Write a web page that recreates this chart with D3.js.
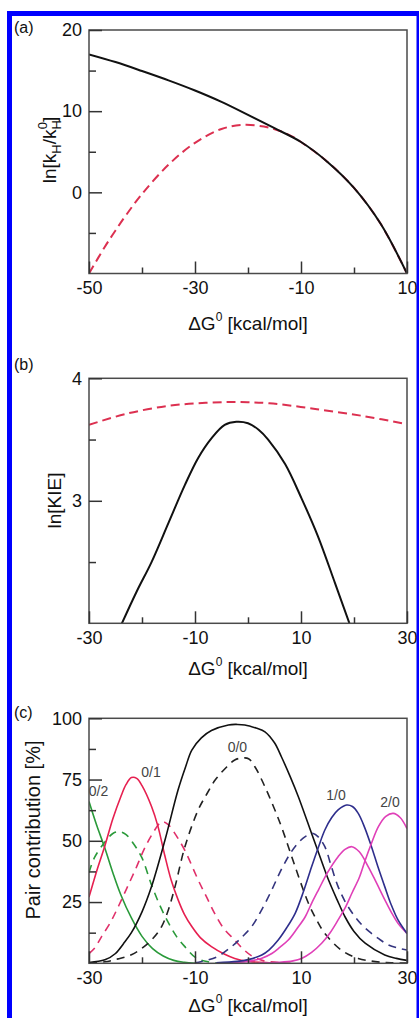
<!DOCTYPE html>
<html><head><meta charset="utf-8">
<script src="https://cdn.jsdelivr.net/npm/d3@7/dist/d3.min.js"></script>
<style>body{margin:0;background:#fff}svg{display:block}text{font-family:"Liberation Sans",Arial,Helvetica,sans-serif}</style>
</head><body><svg id="chart" width="419" height="1018"></svg>
<script>
// ---------- Panel (a) ----------
const aXTicks = [-50, -30, -10, 10];
const aXMinor = [-40, -20, 0];
const aYTicks = [0, 10, 20];
const aYMinor = [-5, 5, 15];
const aBlack = [[-50,17.0],[-45,16.05],[-40,14.95],[-35,13.8],[-30,12.55],[-25,11.15],[-20,9.55],[-15,7.9],[-10,6.2],[-5,3.75],[0,0.55],[5,-3.85],[10,-10]];
const aRed = [[-50,-10],[-47,-6.7],[-45,-4.7],[-43,-2.8],[-40,-0.2],[-35,3.4],[-30,6.1],[-25,7.8],[-21,8.3],[-17,8.1],[-14,7.55],[-12,7.0],[-10,6.2],[-5,3.75],[0,0.55],[5,-3.85],[10,-10]];

// ---------- Panel (b) ----------
const bXTicks = [-30, -10, 10, 30];
const bXMinor = [-20, 0, 20];
const bYTicks = [3, 4];
const bYMinor = [2.5, 3.5];
const bBlack = [[-24,1.98],[-21,2.26],[-18.2,2.5],[-15,2.82],[-11.9,3.13],[-9.4,3.35],[-6.9,3.51],[-4.4,3.62],[-2.2,3.645],[0,3.633],[2,3.58],[3.8,3.5],[7,3.3],[10.1,3.02],[13.2,2.71],[16.4,2.33],[19.3,1.98]];
const bRed = [[-30,3.62],[-23,3.71],[-15,3.775],[-8,3.8],[-2,3.806],[4,3.796],[13,3.748],[22,3.69],[30,3.625]];

// ---------- Panel (c) ----------
const cXTicks = [-30, -10, 10, 30];
const cXMinor = [-20, 0, 20];
const cYTicks = [25, 50, 75, 100];
const cYMinor = [12.5, 37.5, 62.5, 87.5];
const cGreenSolid = [[-30,66],[-28.5,56],[-27,47],[-25.5,37],[-24,28],[-22,18.5],[-20,11],[-18,6],[-16,3],[-14,1.2],[-12,0.4],[-10,0]];
const cGreenDash = [[-30,37],[-29,43],[-27,49.5],[-25.5,53],[-24.3,53.7],[-23,52.5],[-21.5,48.5],[-20,43],[-18.2,32],[-16.5,23],[-15,16.5],[-13.5,11],[-12,7],[-10,2.5],[-8,0.8],[-6,0.2]];
const cRedSolid = [[-30,27],[-28.5,38],[-27,48],[-25.5,59],[-24,68],[-23,73],[-22,75.8],[-21,75.5],[-20,72.5],[-18.2,64],[-17,56],[-15.7,44],[-14.5,34],[-13.2,26],[-12,20],[-10.6,15],[-9,10.5],[-6.9,6.8],[-4.5,3.8],[-2.5,2],[0,0.8],[4,0.2],[8,0]];
const cRedDash = [[-30,4],[-29,6],[-27.6,11],[-26,16.5],[-24.5,23],[-23,30],[-21.3,38],[-19.5,47],[-18,53],[-16.5,57.5],[-16,57.8],[-15,56.5],[-13.5,52],[-11.9,46],[-9.4,34],[-7.8,27],[-6.2,20],[-4.5,14],[-2.5,9.5],[-1,6],[0.7,3],[3,1],[6,0.3]];
const cBlackSolid = [[-30,0.3],[-27,1.4],[-25,4],[-23.5,8],[-22,12.5],[-20,21],[-18.2,31.3],[-15.7,50],[-13.2,70.7],[-11.8,80],[-10.6,87],[-8.8,92],[-6.9,95],[-3.7,97.3],[-2,97.5],[-0.6,97.3],[1.5,96],[3.2,94.5],[5,90],[6.3,84.3],[8,76],[9.5,68],[12,53],[13.5,44],[15.2,34],[16.8,26],[18.3,19],[20,13],[22.1,8.2],[25.8,3.4],[28,2],[30,1.2]];
const cBlackDash = [[-30,0.2],[-27,0.6],[-24.5,1.8],[-22,3.5],[-20.1,6],[-18,10],[-16.3,15],[-15,22],[-13.8,31],[-11.9,47.6],[-9.4,62.6],[-7.8,69],[-6.2,74.8],[-4.3,79.5],[-2.5,83],[-1,83.8],[0.1,83.5],[1.5,79.5],[3.2,72],[4.8,64],[6.3,55.8],[8.9,39.4],[11.4,24.5],[13,17.5],[14.5,12.2],[17.6,5.4],[20.8,2],[24,0.7],[27,0.2],[30,0.1]];
const cNavyDash = [[-10,0.2],[-6,2.5],[-3.1,6.8],[-1,11],[0.7,15],[2.5,21.5],[4.5,30],[6,37],[7.6,43.5],[9.2,48.5],[10.8,51.7],[12.3,53],[13.3,51.5],[14.5,47.6],[15.8,39],[17,31.3],[18.5,24.5],[20.2,19],[21.7,15.2],[23.3,12.2],[25,9.5],[26.5,7.5],[28.3,6.2],[30,5.4]];
const cNavySolid = [[-6,0.2],[-2,0.8],[0,1.5],[2.6,3.4],[4,5.5],[5.7,9.5],[7.3,14.5],[8.9,20.4],[10.5,29.5],[12,39.4],[13.3,47.5],[14.5,54.4],[15.8,59.5],[17,62.6],[18.6,64.6],[19.7,64],[20.8,61.2],[22,55.5],[23.3,47.6],[24.5,39.5],[25.8,31.3],[27,24],[28.3,17.7],[30,12.2]];
const cMagentaLow = [[-4,0.2],[0,0.8],[2.5,2],[4.5,4],[6,6.5],[7.6,9.5],[9.2,14],[10.8,19],[12,24.5],[13.3,30],[15,37],[17,43.5],[18.3,46.5],[19.6,47.6],[21,45.5],[22.7,39.4],[24.2,33],[25.8,26],[27,21],[28.3,16.3],[30,12.2]];
const cMagentaHigh = [[2,0.1],[6,0.4],[8.5,1],[10.1,2],[12,4.5],[13.9,8.2],[15.5,12.5],[17,17.7],[18.3,22.5],[19.6,28.6],[21,35],[22.1,42],[23.3,49],[24.6,55.8],[26,60],[27.4,61.2],[28.7,59.5],[30,55]];
const cLabels = ["0/2", "0/1", "0/0", "1/0", "2/0"];
const cLabelAt = [[-28.2,68.4],[-18.3,76],[-2,86.2],[16.6,66.7],[26.8,63.8]];

const svg = d3.select("#chart");
const FONT = '"Liberation Sans",Arial,Helvetica,sans-serif';
const fmt = d => String(d);

function panel(o) {
  const x = d3.scaleLinear().domain(o.xDomain).range([89, 407]);
  const y = d3.scaleLinear().domain(o.yDomain).range([o.bottom, o.top]);
  const g = svg.append("g");
  const id = "clip" + o.name;
  g.append("clipPath").attr("id", id).append("rect")
    .attr("x", 89).attr("y", o.top).attr("width", 318).attr("height", o.bottom - o.top);
  const line = d3.line().x(d => x(d[0])).y(d => y(d[1])).curve(d3.curveCatmullRom.alpha(0.5));
  const lg = g.append("g").attr("clip-path", `url(#${id})`);
  o.series.forEach(s => {
    lg.append("path").attr("d", line(s.data)).attr("fill", "none")
      .attr("stroke", s.color).attr("stroke-width", s.width || 2)
      .attr("stroke-dasharray", s.dash || null).attr("stroke-linejoin", "round");
  });
  g.append("rect").attr("x", 89).attr("y", o.top).attr("width", 318).attr("height", o.bottom - o.top)
    .attr("fill", "none").attr("stroke", "#4a4a4a").attr("stroke-width", 1.5);
  const xAxis = d3.axisBottom(x).tickValues(o.xTicks).tickSize(-12).tickPadding(21).tickFormat(fmt);
  const xa = g.append("g").attr("transform", `translate(0,${o.bottom})`).call(xAxis);
  const xMin = d3.axisBottom(x).tickValues(o.xMinor).tickSize(-6).tickFormat("");
  const xm = g.append("g").attr("transform", `translate(0,${o.bottom})`).call(xMin);
  const yAxis = d3.axisLeft(y).tickValues(o.yTicks).tickSize(-13).tickPadding(20).tickFormat(fmt);
  const ya = g.append("g").attr("transform", `translate(89,0)`).call(yAxis);
  const yMin = d3.axisLeft(y).tickValues(o.yMinor).tickSize(-7).tickFormat("");
  const ym = g.append("g").attr("transform", `translate(89,0)`).call(yMin);
  [xa, xm, ya, ym].forEach(a => {
    a.select(".domain").remove();
    a.selectAll(".tick line").attr("stroke", "#333").attr("stroke-width", 1.5);
    a.selectAll("text").attr("font-family", FONT).attr("font-size", 18).attr("fill", "#111");
  });
  xa.selectAll("text").attr("dy", "0.71em").attr("y", 8);
  ya.selectAll("text").attr("x", -7);
  const xt = g.append("text").attr("x", 248).attr("y", o.bottom + o.xTitleDy)
    .attr("text-anchor", "middle").attr("font-size", 19).attr("fill", "#111");
  xt.append("tspan").text("\u0394G");
  xt.append("tspan").attr("font-size", 12).attr("dy", -9).text("0");
  xt.append("tspan").attr("dy", 9).text(" [kcal/mol]");
  g.append("text").attr("x", 14).attr("y", o.letterY).attr("font-size", 16).attr("fill", "#111").text(o.letter);
  return {g, x, y};
}

// Panel a
const pa = panel({name: "a", xDomain: [-50, 10], yDomain: [-10, 20], top: 30, bottom: 273.5,
  xTicks: aXTicks, xMinor: aXMinor, yTicks: aYTicks, yMinor: aYMinor, xTitleDy: 56, letter: "(a)", letterY: 33,
  series: [
    {data: aRed, color: "#dc3050", dash: "9,5", width: 2},
    {data: aBlack, color: "#111", width: 2}
  ]});
{
  const t = pa.g.append("text").attr("transform", "translate(56,150) rotate(-90)")
    .attr("text-anchor", "middle").attr("font-size", 19).attr("fill", "#111");
  t.append("tspan").text("ln[k");
  t.append("tspan").attr("font-size", 13).attr("dy", 5).text("H");
  t.append("tspan").attr("dy", -5).text("/k");
  t.append("tspan").attr("font-size", 13).attr("dy", 5).text("H");
  t.append("tspan").attr("font-size", 13).attr("dx", -9).attr("dy", -14).text("0");
  t.append("tspan").attr("dy", 9).text("]");
}

// Panel b
const pb = panel({name: "b", xDomain: [-30, 30], yDomain: [2, 4], top: 378.3, bottom: 623.3,
  xTicks: bXTicks, xMinor: bXMinor, yTicks: bYTicks, yMinor: bYMinor, xTitleDy: 52, letter: "(b)", letterY: 370,
  series: [
    {data: bRed, color: "#dc3050", dash: "9,5", width: 2},
    {data: bBlack, color: "#111", width: 2}
  ]});
pb.g.append("text").attr("transform", "translate(61,500.5) rotate(-90)")
  .attr("text-anchor", "middle").attr("font-size", 19).attr("fill", "#111").text("ln[KIE]");

// Panel c
const pc = panel({name: "c", xDomain: [-30, 30], yDomain: [0, 100], top: 718.3, bottom: 963.3,
  xTicks: cXTicks, xMinor: cXMinor, yTicks: cYTicks, yMinor: cYMinor, xTitleDy: 49, letter: "(c)", letterY: 718,
  series: [
    {data: cGreenSolid, color: "#2a9a3a", width: 1.6},
    {data: cGreenDash, color: "#2a9a3a", dash: "8,6", width: 1.6},
    {data: cRedDash, color: "#e0306a", dash: "8,6", width: 1.6},
    {data: cRedSolid, color: "#e62050", width: 1.6},
    {data: cBlackDash, color: "#222", dash: "8,6", width: 1.6},
    {data: cBlackSolid, color: "#111", width: 1.6},
    {data: cNavyDash, color: "#34347e", dash: "8,6", width: 1.6},
    {data: cMagentaLow, color: "#e040b8", width: 1.6},
    {data: cNavySolid, color: "#2e2e8c", width: 1.6},
    {data: cMagentaHigh, color: "#e040b8", width: 1.6}
  ]});
pc.g.append("text").attr("transform", "translate(40,830) rotate(-90)")
  .attr("text-anchor", "middle").attr("font-size", 20).attr("fill", "#111").text("Pair contribution [%]");
pc.g.selectAll(".clab").data(cLabels).join("text").attr("class", "clab")
  .attr("x", (d, i) => pc.x(cLabelAt[i][0])).attr("y", (d, i) => pc.y(cLabelAt[i][1]))
  .attr("text-anchor", "middle").attr("font-size", 14).attr("fill", "#444").text(d => d);

// blue border
svg.append("rect").attr("x", 9.5).attr("y", 13.5).attr("width", 409.5).attr("height", 1010)
  .attr("fill", "none").attr("stroke", "#0000ff").attr("stroke-width", 5);
</script></body></html>
